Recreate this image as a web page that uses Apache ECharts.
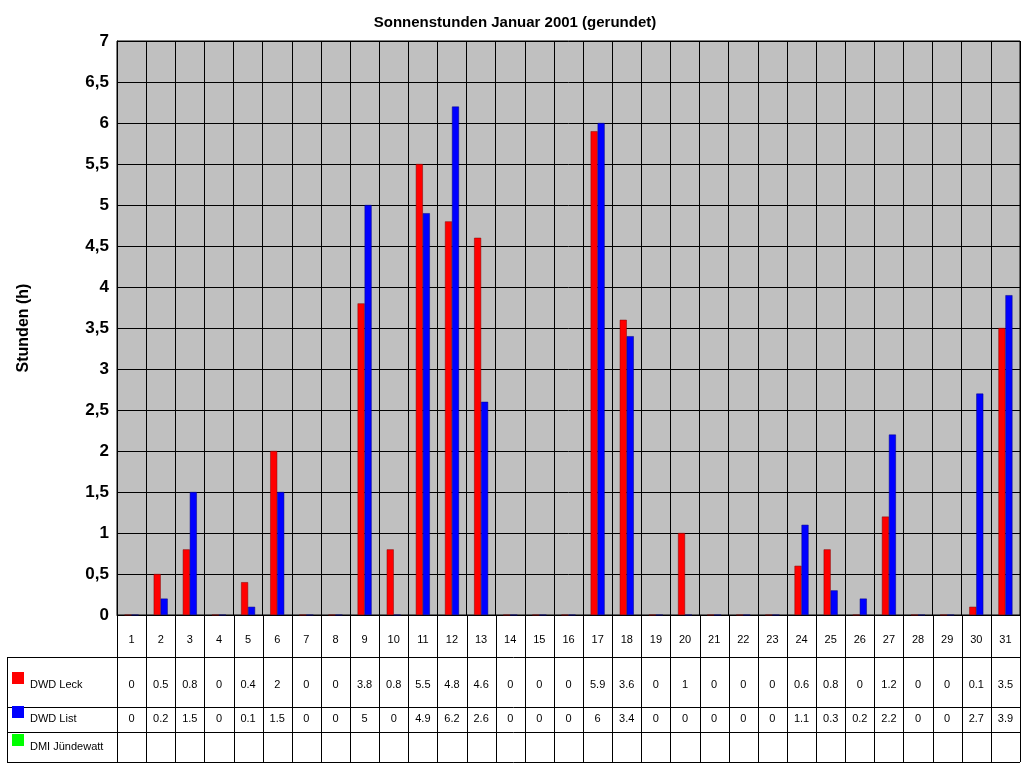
<!DOCTYPE html><html><head><meta charset="utf-8">
<script src="https://cdn.jsdelivr.net/npm/echarts@6/dist/echarts.min.js"></script>
<style>html,body{margin:0;background:#fff}#c{width:1024px;height:768px}</style></head><body><div id="c"></div><script>
const days=[];for(let i=1;i<=31;i++)days.push(String(i));
const leck=[0,0.5,0.8,0,0.4,2,0,0,3.8,0.8,5.5,4.8,4.6,0,0,0,5.9,3.6,0,1,0,0,0,0.6,0.8,0,1.2,0,0,0.1,3.5];
const list=[0,0.2,1.5,0,0.1,1.5,0,0,5,0,4.9,6.2,2.6,0,0,0,6,3.4,0,0,0,0,0,1.1,0.3,0.2,2.2,0,0,2.7,3.9];
const dmi=[];
const names=['DWD Leck','DWD List','DMI Jündewatt'];
const colors=['#ff0000','#0000ff','#00ff00'];
const L=117,R=1020,T=41,B=615;
const chart=echarts.init(document.getElementById('c'));
const font='Arial, "Liberation Sans", sans-serif';
chart.setOption({animation:false,
title:{text:'Sonnenstunden Januar 2001 (gerundet)',left:510,top:10,textAlign:'center',textStyle:{fontSize:15,fontWeight:'bold',fontFamily:font,color:'#000'}},
grid:{left:L,right:1024-R,top:T,bottom:768-B,backgroundColor:'#c0c0c0',show:true,borderColor:'#000',borderWidth:1},
xAxis:{type:'category',data:days,axisLabel:{show:false},axisTick:{show:false},axisLine:{lineStyle:{color:'#000'}},splitLine:{show:true,lineStyle:{color:'#000',width:1}}},
yAxis:{type:'value',min:0,max:7,interval:0.5,name:'Stunden (h)',nameLocation:'middle',nameGap:85,nameTextStyle:{fontSize:16,fontWeight:'bold',fontFamily:font,color:'#000'},
 axisLabel:{fontSize:17,fontWeight:'bold',fontFamily:font,color:'#000',formatter:v=>String(v).replace('.',',')},
 axisLine:{show:true,lineStyle:{color:'#000'}},axisTick:{show:false},splitLine:{lineStyle:{color:'#000',width:1}}},
series:[
{name:names[0],type:'bar',data:leck,barWidth:7,barGap:'0%',itemStyle:{color:colors[0],borderColor:'#800000',borderWidth:0.5}},
{name:names[1],type:'bar',data:list,barWidth:7,itemStyle:{color:colors[1],borderColor:'#000080',borderWidth:0.5}}]
});
const cw=(R-L)/31;
const rows=[615,657,707,732,762];
const g=[];
const ln=(x1,y1,x2,y2)=>g.push({type:'line',shape:{x1,y1,x2,y2},style:{stroke:'#000',lineWidth:1}});
for(let i=0;i<=31;i++){const x=Math.round(L+i*cw)+0.5;ln(x,615,x,762);}
ln(R+0.5,615,R+0.5,762);
ln(7.5,657,7.5,762);
rows.forEach((y,k)=>{ln(k===0?L:7,y+0.5,R,y+0.5);});
const txt=(x,y,t,sz,w)=>g.push({type:'text',x,y,style:{text:t,fontSize:sz||11,fontFamily:font,fontWeight:w||'normal',fill:'#000',align:'center',verticalAlign:'middle'}});
const vals=[leck,list,dmi];const vy=[685,719,747];
days.forEach((d,i)=>{const cx=L+(i+0.5)*cw;txt(cx,640,d);
 vals.forEach((a,k)=>{if(a[i]!==undefined)txt(cx,vy[k],String(a[i]));});});
names.forEach((n,k)=>{g.push({type:'rect',shape:{x:12,y:vy[k]-13,width:12,height:12},style:{fill:colors[k]}});
 g.push({type:'text',x:30,y:vy[k],style:{text:n,fontSize:11,fontFamily:font,fill:'#000',verticalAlign:'middle'}});});
chart.setOption({graphic:g});
</script></body></html>
